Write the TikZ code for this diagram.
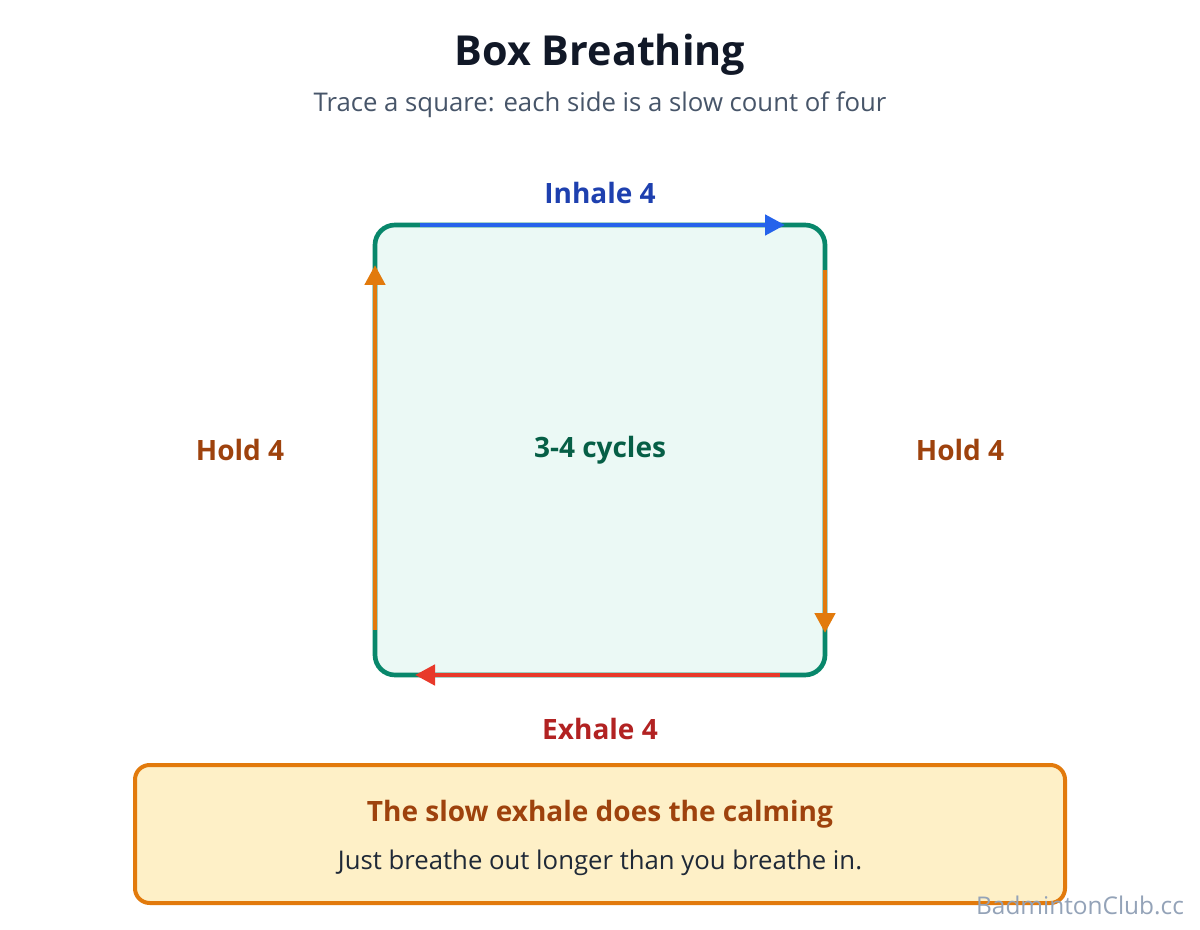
\documentclass[tikz,border=0pt]{standalone}
\usepackage{fontspec}
\setmainfont{Open Sans}
\usepackage{xcolor}
\definecolor{cTitle}{HTML}{111827}
\definecolor{cSub}{HTML}{475569}
\definecolor{cGreen}{HTML}{08876B}
\definecolor{cGreenText}{HTML}{065F46}
\definecolor{cMint}{HTML}{EBF9F5}
\definecolor{cBlue}{HTML}{2563EB}
\definecolor{cBlueText}{HTML}{1E40AF}
\definecolor{cOrange}{HTML}{E27A0C}
\definecolor{cBrown}{HTML}{9E420D}
\definecolor{cRed}{HTML}{E8392A}
\definecolor{cRedText}{HTML}{B22222}
\definecolor{cNote}{HTML}{FEF0C7}
\definecolor{cBody}{HTML}{1F2937}
\definecolor{cMark}{HTML}{94A3B8}
\usepackage{tikz}
\usetikzlibrary{positioning,arrows.meta,calc}
\tikzset{
  node-square/.style={draw=cGreen,line width=3.5pt,fill=cMint,rounded corners=15pt,
    minimum width=337.5pt,minimum height=337.5pt,outer sep=0pt,inner sep=0pt,
    font=\bfseries\fontsize{21}{25}\selectfont,text=cGreenText},
  node-note/.style={draw=cOrange,line width=3pt,fill=cNote,rounded corners=11pt,
    minimum width=697.5pt,minimum height=103.5pt,outer sep=0pt},
  node-side/.style={font=\bfseries\fontsize{21}{25}\selectfont},
  node-text/.style={font=\fontsize{19.3}{23}\selectfont},
  arrow/.style={-{Triangle[length=15pt,width=15pt]},line width=3.5pt},
}

\begin{document}
\begin{tikzpicture}[x=0.75pt,y=-0.75pt]
  \useasboundingbox[fill=white] (0,0) rectangle (1200,930);
  % header
  \node[font=\bfseries\fontsize{31}{36}\selectfont,text=cTitle] (title) at (600,55) {Box Breathing};
  \node[node-text,text=cSub] (sub) at (600,105) {Trace a square: each side is a slow count of four};
  % the box
  \node[node-square] (square) at (600,450) {3-4 cycles};
  \coordinate (tl-a) at ($(square.north west)+(45,0)$);
  \coordinate (tr-a) at ($(square.north east)+(-40,0)$);
  \coordinate (tr-b) at ($(square.north east)+(0,45)$);
  \coordinate (br-b) at ($(square.south east)+(0,-42)$);
  \coordinate (br-c) at ($(square.south east)+(-45,0)$);
  \coordinate (bl-c) at ($(square.south west)+(40,0)$);
  \coordinate (bl-d) at ($(square.south west)+(0,-45)$);
  \coordinate (tl-d) at ($(square.north west)+(0,40)$);
  \draw[arrow,draw=cBlue,fill=cBlue] (tl-a) -- (tr-a);
  \draw[arrow,draw=cOrange,fill=cOrange] (tr-b) -- (br-b);
  \draw[arrow,draw=cRed,fill=cRed] (br-c) -- (bl-c);
  \draw[arrow,draw=cOrange,fill=cOrange] (bl-d) -- (tl-d);
  % side labels
  \node[node-side,text=cBlueText] (inhale) at (600,193) {Inhale 4};
  \node[node-side,text=cBrown] (hold-r) at (960,450) {Hold 4};
  \node[node-side,text=cBrown] (hold-l) at (240,450) {Hold 4};
  \node[node-side,text=cRedText] (exhale) at (600,729) {Exhale 4};
  % note
  \node[node-note] (note) at (600,834) {};
  \node[node-side,text=cBrown] (note-title) at (600,814) {The slow exhale does the calming};
  \node[node-text,text=cBody] (note-body) at (600,863) {Just breathe out longer than you breathe in.};
  \node[font=\fontsize{18.3}{22}\selectfont,text=cMark] (mark) at (1080,905) {BadmintonClub.cc};
\end{tikzpicture}
\end{document}
